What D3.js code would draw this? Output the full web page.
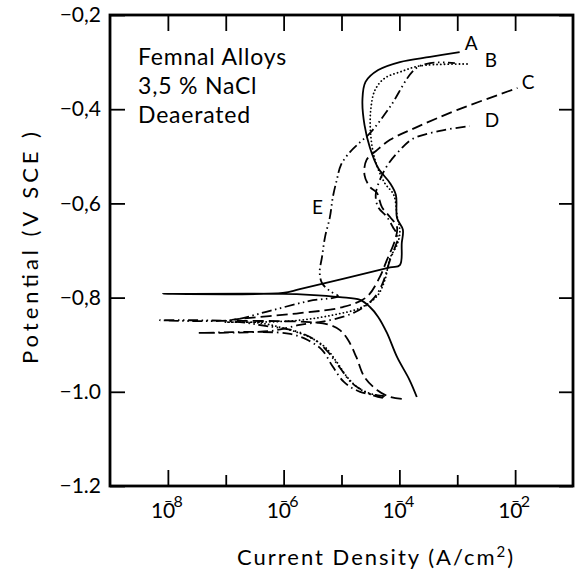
<!DOCTYPE html>
<html lang="en">
<title>Femnal Alloys polarization</title>
<meta charset="UTF-8">
<style>
body { margin: 0; background: #fff; }
svg text { font-family: "Lato", "DejaVu Sans", sans-serif; fill: #000; }
.curve { fill: none; stroke: #000; stroke-width: 1.8; }
.tick line { stroke: #000; stroke-width: 1.8; }
</style>
<script src="https://d3js.org/d3.v7.min.js"></script>
<body>

<div id="my_dataviz"><svg width="586" height="576"></svg></div>

<script>
// [current density (A/cm2), potential (V SCE)]
var curveA = [[2.0e-4,-1.011],[1.5e-4,-0.975],[9.1e-5,-0.926],[6.1e-5,-0.875],[4.3e-5,-0.841],
  [3.1e-5,-0.820],[2.1e-5,-0.805],[9.4e-6,-0.799],[2.8e-6,-0.794],[9.7e-7,-0.792],[8.2e-9,-0.792],
  [9.7e-7,-0.790],[1.9e-6,-0.782],[6.9e-5,-0.736],[1.02e-4,-0.731],[1.1e-4,-0.684],[1.15e-4,-0.656],
  [9.1e-5,-0.631],[8.7e-5,-0.582],[6.9e-5,-0.557],[4.3e-5,-0.525],[3.1e-5,-0.482],[2.5e-5,-0.434],
  [2.3e-5,-0.380],[2.6e-5,-0.342],[4.3e-5,-0.317],[1.02e-4,-0.300],[3.4e-4,-0.289],[1.1e-3,-0.279]];
var curveB = [[5.2e-5,-1.011],[2.2e-5,-0.996],[1.3e-5,-0.971],[8.3e-6,-0.937],[5.2e-6,-0.905],
  [2.8e-6,-0.884],[1.3e-6,-0.869],[3.9e-7,-0.854],[9.7e-8,-0.852],[3.9e-7,-0.852],[1.9e-6,-0.848],
  [7.1e-6,-0.837],[2.1e-5,-0.822],[4.1e-5,-0.797],[5.6e-5,-0.763],[6.9e-5,-0.716],[9.1e-5,-0.688],
  [1.02e-4,-0.661],[9.1e-5,-0.625],[8.0e-5,-0.582],[5.6e-5,-0.557],[3.8e-5,-0.508],[3.2e-5,-0.455],
  [3.2e-5,-0.402],[3.8e-5,-0.359],[5.6e-5,-0.334],[1.02e-4,-0.321],[2.3e-4,-0.308],[1.65e-3,-0.304]];
var curveC = [[1.1e-4,-1.015],[6.9e-5,-1.011],[4.1e-5,-0.996],[2.5e-5,-0.969],[1.8e-5,-0.926],
  [1.3e-5,-0.890],[9.4e-6,-0.869],[6.3e-6,-0.858],[2.8e-6,-0.852],[8.6e-7,-0.850],[1.2e-7,-0.848],
  [1.9e-6,-0.833],[1.06e-5,-0.820],[2.7e-5,-0.799],[4.6e-5,-0.756],[6.1e-5,-0.720],[8.4e-5,-0.678],
  [9.1e-5,-0.650],[6.9e-5,-0.629],[5.0e-5,-0.608],[4.1e-5,-0.578],[3.1e-5,-0.565],[2.5e-5,-0.540],
  [2.7e-5,-0.508],[4.1e-5,-0.487],[6.9e-5,-0.465],[2.0e-4,-0.438],[9.8e-4,-0.402],[1.1e-2,-0.355]];
var curveD = [[5.6e-5,-1.009],[2.1e-5,-1.000],[1.1e-5,-0.979],[7.1e-6,-0.947],[4.6e-6,-0.911],
  [2.6e-6,-0.890],[1.3e-6,-0.877],[3.9e-7,-0.873],[3.2e-8,-0.875],[5.8e-7,-0.871],[1.9e-6,-0.858],
  [6.3e-6,-0.848],[1.7e-5,-0.831],[3.4e-5,-0.805],[5.0e-5,-0.773],[6.9e-5,-0.720],[8.4e-5,-0.693],
  [9.4e-5,-0.671],[7.7e-5,-0.650],[6.1e-5,-0.629],[4.3e-5,-0.608],[3.9e-5,-0.582],[4.6e-5,-0.550],
  [6.3e-5,-0.518],[1.02e-4,-0.487],[1.7e-4,-0.463],[5.0e-4,-0.446],[1.65e-3,-0.436]];
var curveE = [[5.2e-5,-1.013],[3.1e-5,-1.005],[1.5e-5,-0.981],[9.4e-6,-0.949],[5.8e-6,-0.915],
  [3.5e-6,-0.890],[1.6e-6,-0.871],[4.8e-7,-0.860],[1.2e-7,-0.850],[7.3e-9,-0.848],[1.2e-7,-0.848],
  [5.8e-7,-0.828],[2.8e-6,-0.807],[8.7e-6,-0.797],[6.3e-6,-0.786],[4.6e-6,-0.769],[4.2e-6,-0.746],
  [4.6e-6,-0.714],[5.2e-6,-0.671],[6.3e-6,-0.629],[7.1e-6,-0.586],[8.3e-6,-0.550],[9.8e-6,-0.518],
  [1.4e-5,-0.491],[2.1e-5,-0.470],[3.1e-5,-0.451],[6.9e-5,-0.395],[1.85e-4,-0.315],[3.4e-4,-0.302],
  [9.1e-4,-0.302]];

var curveNames = ["A", "B", "C", "D", "E"];
var curveDash = ["none", "0.1,3.6", "11,5", "10,4,1.5,4", "10,3.5,1.5,3.5,1.5,3.5"];
// label anchor: [current, potential] where the letter sits
var labelAt = [[1.35e-3,-0.274], [3.0e-3,-0.310], [1.3e-2,-0.357], [3.0e-3,-0.438], [3.1e-6,-0.622]];

var yTicks = [-1.2, -1.0, -0.8, -0.6, -0.4, -0.2];
var yTickLabels = ["\u22121.2", "\u22121.0", "\u22120,8", "\u22120,6", "\u22120,4", "\u22120,2"];
var xTicks = [1e-8, 1e-7, 1e-6, 1e-5, 1e-4, 1e-3, 1e-2];
var xLabelTicks = [1e-8, 1e-6, 1e-4, 1e-2];
var xExponents = ["8", "6", "4", "2"];
var insetLines = ["Femnal Alloys", "3,5 % NaCl", "Deaerated"];

var pLeft = 110, pRight = 573, pTop = 15, pBottom = 486;

var x = d3.scaleLog().domain([1e-9, 1e-1]).range([pLeft, pRight]);
var y = d3.scaleLinear().domain([-1.2, -0.2]).range([pBottom, pTop]);

var svg = d3.select("svg");

// axes with inward ticks
svg.append("g")
  .attr("transform", "translate(0," + pBottom + ")")
  .call(d3.axisBottom(x).tickValues(xTicks).tickSize(-11).tickFormat(""))
  .call(g => g.selectAll(".tick line").filter(d => xLabelTicks.indexOf(d) > -1).attr("y2", -16))
  .call(g => g.select(".domain").remove());

svg.append("g")
  .attr("transform", "translate(0," + pTop + ")")
  .call(d3.axisTop(x).tickValues(xTicks).tickSize(-16).tickFormat(""))
  .call(g => g.select(".domain").remove());

svg.append("g")
  .attr("transform", "translate(" + pLeft + ",0)")
  .call(d3.axisLeft(y).tickValues(yTicks).tickSize(-15).tickPadding(9)
    .tickFormat((d, i) => yTickLabels[i]))
  .call(g => g.select(".domain").remove())
  .call(g => g.selectAll("text").attr("font-size", 21).attr("font-family", "Lato"));

svg.append("g")
  .attr("transform", "translate(" + pRight + ",0)")
  .call(d3.axisRight(y).tickValues(yTicks).tickSize(-14).tickFormat(""))
  .call(g => g.select(".domain").remove());

// frame
svg.append("rect")
  .attr("x", pLeft).attr("y", pTop)
  .attr("width", pRight - pLeft).attr("height", pBottom - pTop)
  .attr("fill", "none").attr("stroke", "#000").attr("stroke-width", 2.8);

// x tick labels: 10 with the minus over the 0
xLabelTicks.forEach(function(t, i) {
  var lab = svg.append("text")
    .attr("x", x(t) - 17).attr("y", 518)
    .attr("font-size", 21);
  lab.append("tspan").text("10");
  lab.append("tspan").attr("font-size", 14).attr("dx", -11).attr("dy", -12).text("\u2212");
  lab.append("tspan").attr("font-size", 16).attr("dx", 1).attr("dy", 1).text(xExponents[i]);
});

// curves
var line = d3.line()
  .x(d => x(d[0]))
  .y(d => y(d[1]))
  .curve(d3.curveCatmullRom.alpha(0.5));

[curveA, curveB, curveC, curveD, curveE].forEach(function(c, i) {
  svg.append("path")
    .datum(c)
    .attr("class", "curve")
    .attr("d", line)
    .attr("stroke-dasharray", curveDash[i])
    .attr("stroke-linecap", i == 1 ? "round" : "butt")
    .attr("stroke-width", i == 1 ? 2.2 : 1.8);
});

// curve letters
curveNames.forEach(function(n, i) {
  svg.append("text")
    .attr("x", x(labelAt[i][0])).attr("y", y(labelAt[i][1]))
    .attr("font-size", 19)
    .text(n);
});

// inset text
insetLines.forEach(function(s, i) {
  svg.append("text")
    .attr("x", 138).attr("y", 65 + i * 29)
    .attr("font-size", 23)
    .attr("letter-spacing", 0.8)
    .text(s);
});

// axis titles
svg.append("text")
  .attr("transform", "translate(38,248) rotate(-90)")
  .attr("text-anchor", "middle")
  .attr("font-size", 22)
  .attr("textLength", 232)
  .attr("lengthAdjust", "spacing")
  .text("Potential (V SCE )");

var xt = svg.append("text")
  .attr("x", 237).attr("y", 565)
  .attr("font-size", 22)
  .attr("letter-spacing", 2);
xt.append("tspan").text("Current Density (A/cm");
xt.append("tspan").attr("font-size", 15).attr("dy", -8).text("2");
xt.append("tspan").attr("dy", 8).text(")");
</script>

</body>
</html>
